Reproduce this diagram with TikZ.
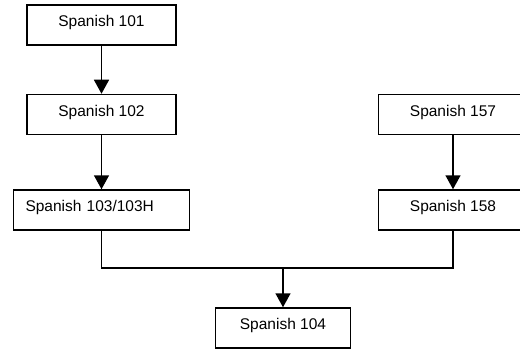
\documentclass[tikz,border=0pt]{standalone}
\usepackage{fontspec}
\setmainfont{Liberation Sans}
\usetikzlibrary{positioning,arrows.meta}

\tikzset{
  course/.style={draw, line width=1.5pt, minimum width=149pt, minimum height=40pt,
    inner sep=0pt, text height=11pt, text depth=8pt,
    font=\fontsize{15.5}{18}\selectfont},
  link/.style={line width=1.5pt, ->}
}

\begin{document}
\begin{tikzpicture}[x=1pt, y=1pt, >={Triangle[width=15pt,length=14pt]}]
    \clip (0,0) rectangle (520,349);
    % left column
    \node[course] (sp101) at (101.5,324) {Spanish 101};
    \node[course, below=48pt of sp101] (sp102) {Spanish 102};
    \node[course, below=54pt of sp102, minimum width=176pt, text width=152pt,
          align=left, inner xsep=12pt] (sp103) {Spanish 103/103H};
    % right column
    \node[course, right=201pt of sp102] (sp157) {Spanish 157};
    \node[course, below=54pt of sp157] (sp158) {Spanish 158};
    % bottom
    \node[course, minimum width=135pt] (sp104) at (283,21) {Spanish 104};
    \coordinate (join) at (sp104.north |- 0,81);

    \draw[link] (sp101) -- (sp102);
    \draw[link] (sp102) -- (sp102 |- sp103.north);
    \draw[link] (sp157) -- (sp158);
    \draw[line width=1.5pt] (sp102 |- sp103.south) |- (join) -| (sp158.south);
    \draw[link] (join) -- (sp104);
\end{tikzpicture}
\end{document}
